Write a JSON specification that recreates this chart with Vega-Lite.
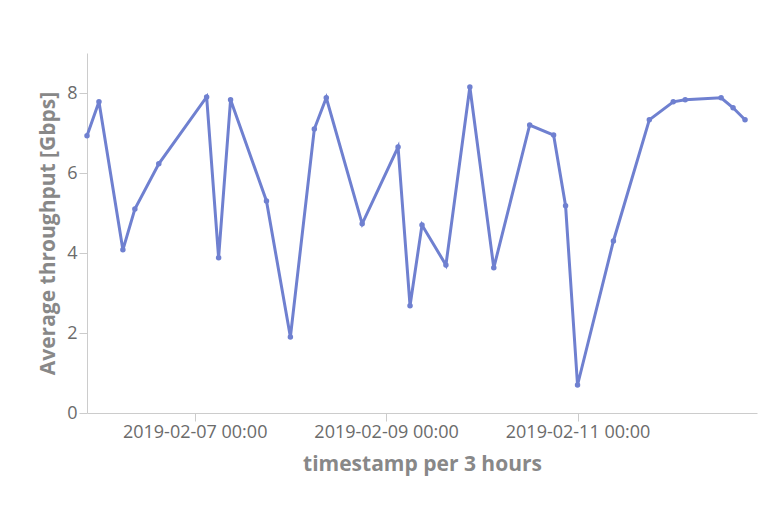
{"$schema":"https://vega.github.io/schema/vega-lite/v6.json","width":670,"height":360,"autosize":"none","padding":{"left":87,"top":53,"right":5,"bottom":93},
"config":{"font":"Open Sans","view":{"stroke":null},"axis":{"labelFont":"Open Sans","titleFont":"Open Sans","labelFontSize":18,"titleFontSize":21,"labelColor":"#6b6b6b","titleColor":"#888","domainColor":"#ccc","tickColor":"#ccc","tickSize":8,"grid":false,"titleFontWeight":"bold"}},
"data":{"values":[
{"t":"2019-02-05T21:00","v":6.93},{"t":"2019-02-06T00:00","v":7.78},{"t":"2019-02-06T06:00","v":4.08},{"t":"2019-02-06T09:00","v":5.1},{"t":"2019-02-06T15:00","v":6.23},{"t":"2019-02-07T03:00","v":7.9},{"t":"2019-02-07T06:00","v":3.88},{"t":"2019-02-07T09:00","v":7.83},{"t":"2019-02-07T18:00","v":5.3},{"t":"2019-02-08T00:00","v":1.9},{"t":"2019-02-08T06:00","v":7.1},{"t":"2019-02-08T09:00","v":7.88},{"t":"2019-02-08T18:00","v":4.73},{"t":"2019-02-09T03:00","v":6.65},{"t":"2019-02-09T06:00","v":2.68},{"t":"2019-02-09T09:00","v":4.7},{"t":"2019-02-09T15:00","v":3.7},{"t":"2019-02-09T21:00","v":8.15},{"t":"2019-02-10T03:00","v":3.63},{"t":"2019-02-10T12:00","v":7.2},{"t":"2019-02-10T18:00","v":6.95},{"t":"2019-02-10T21:00","v":5.18},{"t":"2019-02-11T00:00","v":0.7},{"t":"2019-02-11T09:00","v":4.3},{"t":"2019-02-11T18:00","v":7.33},{"t":"2019-02-12T00:00","v":7.78},{"t":"2019-02-12T03:00","v":7.83},{"t":"2019-02-12T12:00","v":7.88},{"t":"2019-02-12T15:00","v":7.63},{"t":"2019-02-12T18:00","v":7.33}]},
"mark":{"type":"line","point":{"size":30,"color":"#6f80d0"},"color":"#6f80d0","strokeWidth":3},
"encoding":{
"x":{"field":"t","type":"temporal","title":"timestamp per 3 hours","scale":{"domain":["2019-02-05T21:00","2019-02-12T21:00"]},"axis":{"values":["2019-02-07T00:00","2019-02-09T00:00","2019-02-11T00:00"],"format":"%Y-%m-%d %H:%M","titlePadding":12}},
"y":{"field":"v","type":"quantitative","title":"Average throughput [Gbps]","scale":{"domain":[0,9],"nice":false},"axis":{"values":[0,2,4,6,8],"titlePadding":8}}}}
